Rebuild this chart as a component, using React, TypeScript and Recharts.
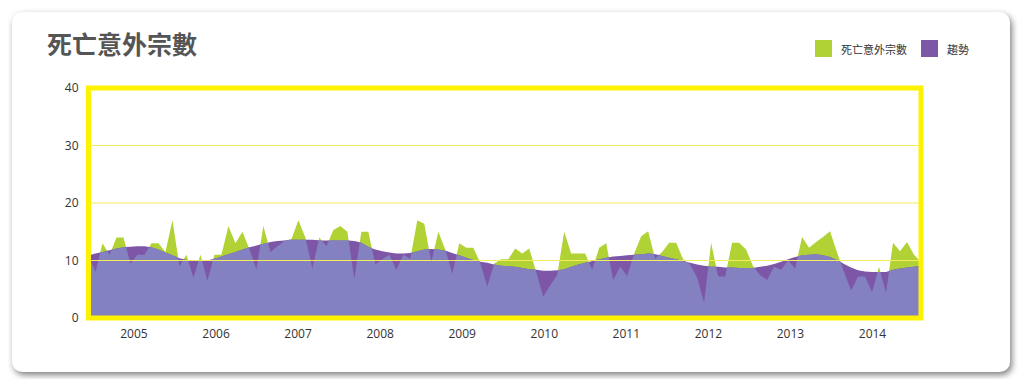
import {
  AreaChart,
  Area,
  XAxis,
  YAxis,
  ReferenceLine,
  ReferenceArea,
} from "recharts";

// monthly fatal accident counts, Jan 2005 .. Dec 2014
const COUNTS = [
  11, 8, 13, 11, 14, 14, 9.5, 11, 11, 13, 13, 11.5,
  17, 9, 11, 7, 11, 6.5, 11, 11, 16, 13, 15, 12,
  8.5, 16, 11.5, 12.5, 13.4, 13.7, 17, 14, 8.6, 14, 12.5, 15.3,
  16, 15, 6.8, 15, 15, 9.3, 10.2, 11, 8.4, 11, 10.3, 17,
  16.4, 9.7, 15, 11.9, 7.7, 13, 12.2, 12.2, 9.6, 5.5, 9.5, 10.2,
  10.2, 12.1, 11.2, 12.1, 8, 3.7, 5.7, 7.5, 15, 11.2, 11.2, 11.2,
  8.4, 12.2, 13, 6.6, 8.9, 7.3, 11.2, 14.2, 15.1, 10.3, 11.5, 13.1,
  13.1, 10.2, 9.3, 7, 2.7, 13.1, 7.2, 7.2, 13.1, 13.1, 11.9, 9,
  7.5, 6.6, 8.9, 8.4, 10, 8.6, 14.1, 12.2, 13.2, 14.1, 15.1, 11.4,
  8, 4.8, 7.2, 7.2, 4.5, 8.9, 4.4, 13.1, 11.6, 13.2, 11, 9.7,
];

const TREND = [
  10.9, 11.2, 11.5, 11.8, 12.1, 12.3, 12.4, 12.5, 12.5, 12.3, 11.9, 11.4,
  10.9, 10.4, 10.1, 10.0, 10.0, 10.0, 10.3, 10.7, 11.1, 11.5, 11.9, 12.3,
  12.6, 12.9, 13.2, 13.4, 13.5, 13.6, 13.6, 13.6, 13.6, 13.5, 13.5, 13.5,
  13.5, 13.5, 13.4, 13.1, 12.4, 11.9, 11.6, 11.4, 11.2, 11.2, 11.3, 11.6,
  11.9, 12.0, 11.9, 11.7, 11.3, 10.9, 10.5, 10.1, 9.8, 9.6, 9.3, 9.1,
  9.0, 8.9, 8.7, 8.5, 8.4, 8.2, 8.2, 8.3, 8.5, 8.9, 9.3, 9.6,
  9.9, 10.2, 10.5, 10.7, 10.8, 10.9, 11.0, 11.1, 11.2, 11.1, 10.8, 10.5,
  10.2, 9.9, 9.6, 9.3, 9.1, 8.9, 8.9, 8.8, 8.8, 8.7, 8.7, 8.7,
  8.9, 9.1, 9.4, 9.8, 10.2, 10.6, 10.9, 11.0, 11.1, 10.9, 10.6, 10.1,
  9.4, 8.8, 8.3, 8.1, 8.0, 8.0, 8.0, 8.4, 8.6, 8.8, 8.9, 9.1,
];

const YEARS = [2005, 2006, 2007, 2008, 2009, 2010, 2011, 2012, 2013, 2014];
const Y_TICKS = [0, 10, 20, 30, 40];

const SERIES = [
  { key: "count", name: "死亡意外宗數", color: "#b1d235" },
  { key: "trend", name: "趨勢", color: "#7d56a8" },
];
const OVERLAP = "#8381bf";

const YEAR_FIRST = 6.5;
const YEAR_STEP = 11.73;
const yearTicks = YEARS.map((_, k) => YEAR_FIRST + k * YEAR_STEP);

// add the crossing points so the overlap band meets both edges cleanly
const rows: { x: number; count: number; trend: number; low: number }[] = [];
COUNTS.forEach((c, i) => {
  const t = TREND[i];
  rows.push({ x: i, count: c, trend: t, low: Math.min(c, t) });
  if (i < COUNTS.length - 1) {
    const d0 = c - t;
    const d1 = COUNTS[i + 1] - TREND[i + 1];
    if (d0 * d1 < 0) {
      const f = d0 / (d0 - d1);
      const v = c + f * (COUNTS[i + 1] - c);
      rows.push({ x: i + f, count: v, trend: v, low: v });
    }
  }
});

const font = '"Open Sans", "Noto Sans CJK TC", sans-serif';

export default function App() {
  return (
    <div style={{ position: "relative", width: 1010, height: 371 }}>
      <div
        style={{
          position: "absolute",
          left: 4,
          top: 4,
          width: 998,
          height: 360,
          background: "#fff",
          borderRadius: 10,
          boxShadow: "2px 3px 6px rgba(0,0,0,0.5)",
          fontFamily: font,
        }}
      >
        <div
          style={{
            position: "absolute",
            left: 35,
            top: 18,
            fontSize: 25,
            lineHeight: "27px",
            fontWeight: 700,
            color: "#555",
            fontFamily: '"Noto Sans CJK TC", sans-serif',
          }}
        >
          死亡意外宗數
        </div>
        <div
          style={{
            position: "absolute",
            left: 803,
            top: 28,
            display: "flex",
            alignItems: "center",
            fontSize: 11,
            color: "#333",
            fontFamily: '"Noto Sans CJK TC", sans-serif',
          }}
        >
          {SERIES.map((s) => (
            <div key={s.key} style={{ display: "flex", alignItems: "center", marginRight: 14 }}>
              <div style={{ width: 17, height: 17, background: s.color, marginRight: 9 }} />
              <span>{s.name}</span>
            </div>
          ))}
        </div>
        <div style={{ position: "absolute", left: 0, top: 48 }}>
          <AreaChart
            width={930}
            height={289}
            data={rows}
            margin={{ top: 28, right: 21, bottom: 0, left: 0 }}
          >
            <XAxis
              dataKey="x"
              type="number"
              domain={[0, COUNTS.length - 1]}
              ticks={yearTicks}
              tickFormatter={(v: number) => String(YEARS[Math.round((v - YEAR_FIRST) / YEAR_STEP)])}
              axisLine={false}
              tickLine={false}
              tickSize={0}
              tickMargin={11}
              height={31}
              tick={{ fontSize: 12, fill: "#333", fontFamily: font }}
            />
            <YAxis
              domain={[0, 40]}
              ticks={Y_TICKS}
              axisLine={false}
              tickLine={false}
              tickSize={0}
              tickMargin={10}
              width={76.5}
              tick={{ fontSize: 12, fill: "#333", fontFamily: font }}
            />
            <Area
              type="linear"
              dataKey="count"
              name={SERIES[0].name}
              stroke="none"
              fill={SERIES[0].color}
              fillOpacity={1}
              isAnimationActive={false}
            />
            <Area
              type="linear"
              dataKey="trend"
              name={SERIES[1].name}
              stroke="none"
              fill={SERIES[1].color}
              fillOpacity={1}
              isAnimationActive={false}
            />
            <Area
              type="linear"
              dataKey="low"
              stroke="none"
              fill={OVERLAP}
              fillOpacity={1}
              isAnimationActive={false}
            />
            {[10, 20, 30].map((y) => (
              <ReferenceLine key={y} y={y} stroke="#f4ec5a" strokeWidth={1} zIndex={450} />
            ))}
            <ReferenceArea
              x1={0}
              x2={COUNTS.length - 1}
              y1={0}
              y2={40}
              fill="none"
              fillOpacity={0}
              stroke="#fff200"
              strokeWidth={5}
              zIndex={460}
            />
          </AreaChart>
        </div>
      </div>
    </div>
  );
}
